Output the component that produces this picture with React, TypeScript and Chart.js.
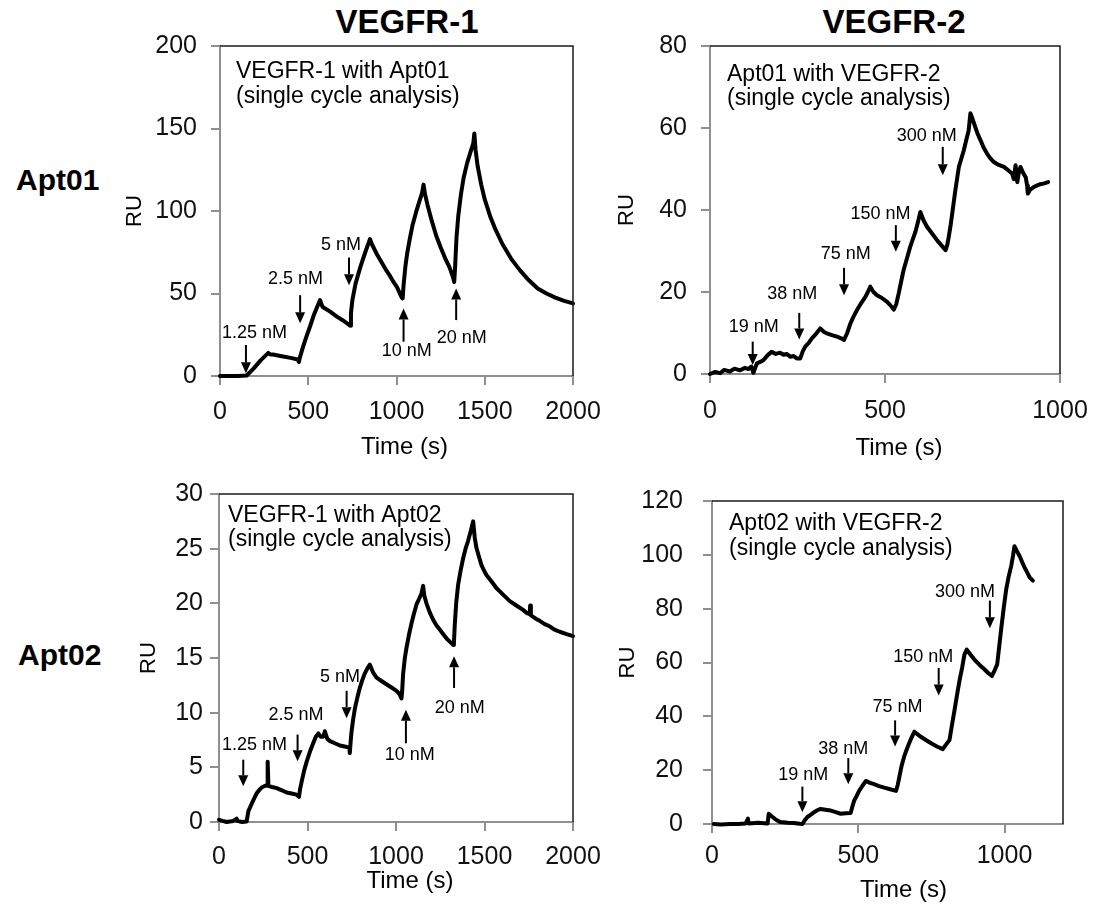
import React, { useEffect, useRef } from "react";
import { Chart, registerables } from "chart.js";

Chart.register(...registerables);

const FONT = "'Liberation Sans', Arial, Helvetica, sans-serif";

// ---------- Panel 1: VEGFR-1 with Apt01 ----------
const p1Time = [0, 100, 151, 190, 230, 274, 285, 300, 350, 400, 440, 447, 452, 470, 490, 510, 530, 555, 567, 580, 624, 662, 700, 737, 742, 750, 768, 795, 823, 850, 860, 888, 926, 945, 964, 983, 1002, 1030, 1035, 1040, 1050, 1060, 1075, 1090, 1110, 1130, 1145, 1153, 1162, 1175, 1200, 1225, 1250, 1275, 1300, 1320, 1327, 1332, 1340, 1350, 1365, 1380, 1400, 1420, 1435, 1441, 1448, 1460, 1480, 1500, 1530, 1560, 1600, 1650, 1700, 1750, 1800, 1850, 1900, 1950, 2000];
const p1RU = [0, 0, 0.3, 4.5, 9.5, 14, 13, 13, 12, 11, 10, 8.5, 11, 17.5, 24, 30, 36.5, 43, 46, 42, 39, 36, 33.5, 30.5, 38, 46, 56, 66, 75, 83, 80, 74, 67, 63.5, 60.5, 57, 54, 47.5, 47, 55, 66, 74, 83, 91, 99, 106, 111, 116, 110, 104, 94, 85, 78, 71.5, 66, 60, 57, 66, 84, 97, 110, 120, 129, 136, 141, 147, 137, 127, 116, 107, 97, 89, 80, 71, 64, 58, 53, 50, 47.5, 45.5, 44];
const p1XMax = 2000;
const p1XTicks = [0, 500, 1000, 1500, 2000];
const p1YTicks = [0, 50, 100, 150, 200];
const p1Arrows = [
  { label: "1.25 nM", x: 147, from: 18.8, to: 1.6, lx: 195, ly: 26 },
  { label: "2.5 nM", x: 454, from: 49, to: 31.9, lx: 428, ly: 59 },
  { label: "5 nM", x: 731, from: 71.8, to: 55, lx: 686, ly: 79.6 },
  { label: "10 nM", x: 1040, from: 20.8, to: 40.9, lx: 1058, ly: 15.3 },
  { label: "20 nM", x: 1338, from: 33.9, to: 53, lx: 1370, ly: 22.8 },
];
const p1Caption = ["VEGFR-1 with Apt01", "(single cycle analysis)"];

// ---------- Panel 2: Apt01 with VEGFR-2 ----------
const p2Time = [0, 15, 29, 40, 57, 70, 86, 100, 110, 118, 124, 134, 145, 153, 165, 176, 188, 200, 210, 219, 230, 239, 248, 258, 265, 272, 282, 291, 303, 315, 325, 334, 348, 363, 375, 383, 392, 401, 410, 420, 432, 444, 451, 458, 467, 477, 490, 506, 515, 525, 532, 539, 546, 553, 562, 572, 580, 587, 594, 601, 610, 620, 635, 649, 662, 673, 678, 682, 687, 692, 701, 711, 718, 725, 732, 739, 744, 751, 758, 765, 773, 782, 792, 801, 811, 825, 840, 852, 863, 868, 873, 878, 883, 887, 895, 902, 906, 908, 915, 925, 935, 944, 955, 966];
const p2RU = [0, 0.5, 0.2, 1, 0.6, 1.3, 0.9, 1.5, 1.2, 1.8, 0.3, 2.6, 3, 3.4, 4.6, 5.4, 4.9, 5.2, 4.7, 4.9, 4.2, 4.4, 3.8, 3.8, 5.5, 6.7, 7.6, 8.7, 9.8, 11.1, 10.3, 9.9, 9.5, 9.1, 8.7, 8.3, 10, 12.3, 14, 15.6, 17.3, 18.8, 20, 21.3, 20, 19.2, 18.6, 17.6, 16.8, 15.7, 17, 19.6, 22.5, 25.3, 28, 31, 33, 34.7, 37, 39.5, 37.5, 35.9, 34.2, 32.6, 31.3, 30.2, 31.5, 33.4, 36, 39.1, 44.8, 50.5, 52.5, 54.5, 57, 59.4, 63.6, 62, 60.2, 58.5, 57, 55.2, 53.7, 52.6, 51.7, 51, 50.5, 49.7, 48.9, 47.5, 50.9, 46.8, 49.5, 50.5, 49, 48, 46, 44, 45, 45.6, 46, 46.3, 46.5, 46.8];
const p2XMax = 1000;
const p2XTicks = [0, 500, 1000];
const p2YTicks = [0, 20, 40, 60, 80];
const p2Arrows = [
  { label: "19 nM", x: 122, from: 7.9, to: 2.2, lx: 125, ly: 11.4 },
  { label: "38 nM", x: 255, from: 14.9, to: 8.4, lx: 235, ly: 19.5 },
  { label: "75 nM", x: 383, from: 25.9, to: 19.2, lx: 388, ly: 29.3 },
  { label: "150 nM", x: 531, from: 36.3, to: 29.8, lx: 487, ly: 39 },
  { label: "300 nM", x: 665, from: 55.4, to: 48.5, lx: 619, ly: 58 },
];
const p2Caption = ["Apt01 with VEGFR-2", "(single cycle analysis)"];

// ---------- Panel 3: VEGFR-1 with Apt02 ----------
const p3Time = [0, 20, 43, 80, 100, 103, 130, 156, 162, 166, 180, 194, 212, 231, 245, 260, 272, 275, 279, 300, 326, 355, 382, 410, 438, 452, 458, 467, 481, 495, 513, 532, 547, 561, 575, 589, 598, 612, 627, 655, 683, 710, 736, 739, 744, 749, 758, 768, 782, 796, 810, 824, 840, 852, 870, 890, 918, 946, 975, 1003, 1020, 1031, 1035, 1040, 1050, 1059, 1073, 1088, 1102, 1116, 1130, 1144, 1153, 1160, 1172, 1190, 1210, 1228, 1247, 1266, 1285, 1304, 1323, 1327, 1332, 1340, 1351, 1365, 1379, 1393, 1407, 1422, 1436, 1445, 1454, 1468, 1483, 1497, 1511, 1540, 1567, 1605, 1643, 1680, 1718, 1740, 1755, 1758, 1762, 1790, 1812, 1840, 1868, 1895, 1925, 1960, 2000];
const p3RU = [0.2, 0.1, 0, 0.1, 0.3, 0.1, 0, 0.05, 0.6, 1.0, 1.5, 2.0, 2.6, 3.0, 3.2, 3.3, 3.4, 5.5, 3.3, 3.2, 3.1, 2.9, 2.7, 2.6, 2.5, 2.3, 3.0, 3.7, 4.7, 5.5, 6.4, 7.2, 7.8, 8.1, 7.8, 7.8, 8.3, 7.6, 7.4, 7.2, 7.0, 6.9, 6.8, 6.3, 7.4, 8.3, 9.4, 10.4, 11.4, 12.3, 13.0, 13.6, 14.1, 14.4, 13.7, 13.2, 12.9, 12.6, 12.3, 12.0, 11.7, 11.3, 12.0, 13.5, 15.0, 15.9, 17.1, 18.2, 19.1, 19.9, 20.4, 20.9, 21.6, 20.7, 20.0, 19.2, 18.5, 18.0, 17.6, 17.2, 16.8, 16.5, 16.2, 16.3, 18.0, 20.0, 21.7, 23.0, 24.1, 25.0, 25.7, 26.6, 27.5, 26.0, 25.1, 24.3, 23.5, 23.0, 22.6, 22.0, 21.4, 20.8, 20.2, 19.8, 19.4, 19.1, 19.0, 19.8, 18.9, 18.6, 18.4, 18.1, 17.9, 17.6, 17.4, 17.2, 17.0];
const p3XMax = 2000;
const p3XTicks = [0, 500, 1000, 1500, 2000];
const p3YTicks = [0, 5, 10, 15, 20, 25, 30];
const p3Arrows = [
  { label: "1.25 nM", x: 137, from: 5.7, to: 3.26, lx: 200, ly: 7.07 },
  { label: "2.5 nM", x: 444, from: 8.0, to: 5.55, lx: 435, ly: 9.76 },
  { label: "5 nM", x: 721, from: 12.0, to: 9.5, lx: 683, ly: 13.3 },
  { label: "10 nM", x: 1056, from: 7.2, to: 10.27, lx: 1078, ly: 6.1 },
  { label: "20 nM", x: 1328, from: 12.26, to: 15.15, lx: 1360, ly: 10.4 },
];
const p3Caption = ["VEGFR-1 with Apt02", "(single cycle analysis)"];

// ---------- Panel 4: Apt02 with VEGFR-2 ----------
const p4Time = [6, 30, 63, 90, 115, 123, 125, 158, 190, 194, 205, 220, 234, 260, 280, 300, 309, 318, 326, 338, 349, 360, 371, 388, 406, 423, 440, 457, 474, 480, 486, 495, 503, 515, 526, 540, 554, 571, 589, 609, 629, 635, 640, 648, 657, 665, 674, 683, 692, 703, 714, 731, 749, 769, 789, 800, 812, 820, 829, 837, 846, 855, 863, 871, 884, 897, 914, 932, 945, 957, 966, 975, 982, 989, 997, 1006, 1014, 1023, 1029, 1034, 1043, 1052, 1060, 1069, 1078, 1086, 1097];
const p4RU = [0, -0.2, 0, 0, 0.2, 2, 0.2, 0.5, 0.2, 3.8, 2.8, 1.5, 0.7, 0.5, 0.4, 0.1, 0, 1.5, 2.6, 3.5, 4.4, 5.1, 5.6, 5.3, 5, 4.4, 3.8, 4.0, 4.1, 6.5, 8.7, 10.5, 12.3, 14.3, 16, 15.3, 14.8, 14.1, 13.5, 12.9, 12.3, 14.5, 17.2, 21.5, 25.1, 27.5, 30, 32.3, 34.3, 33.3, 32.4, 31.2, 30, 28.8, 27.8, 29.5, 31.2, 36.5, 42.2, 47.5, 53.2, 58, 62.9, 64.8, 62.9, 61.1, 59.2, 57.4, 56, 55, 57, 59.3, 66, 72.7, 80, 87.3, 91.8, 95.9, 99.6, 103.2, 101.3, 99.5, 97.4, 95.2, 93.4, 91.6, 90.4];
const p4XMax = 1200;
const p4XTicks = [0, 500, 1000];
const p4YTicks = [0, 20, 40, 60, 80, 100, 120];
const p4Arrows = [
  { label: "19 nM", x: 309, from: 13.9, to: 4.4, lx: 312, ly: 18.2 },
  { label: "38 nM", x: 466, from: 24.5, to: 14.8, lx: 449, ly: 28 },
  { label: "75 nM", x: 626, from: 38.5, to: 28.8, lx: 634, ly: 43.5 },
  { label: "150 nM", x: 775, from: 58, to: 47.7, lx: 722, ly: 62 },
  { label: "300 nM", x: 950, from: 83, to: 72.7, lx: 865, ly: 86 },
];
const p4Caption = ["Apt02 with VEGFR-2", "(single cycle analysis)"];

const columnTitles = ["VEGFR-1", "VEGFR-2"];
const rowTitles = ["Apt01", "Apt02"];
const yTitle = "RU";
const xTitle = "Time (s)";

type Arrow = { label: string; x: number; from: number; to: number; lx: number; ly: number };

interface Panel {
  time: number[];
  ru: number[];
  xMax: number;
  xTicks: number[];
  yTicks: number[];
  arrows: Arrow[];
  caption: string[];
  plotLeft: number;
  plotTop: number;
  plotW: number;
  plotH: number;
  yTickPad: number;
  xTickPad: number;
  ruOff: number;
  capDx: number;
  capDy1: number;
  capDy2: number;
  tDx: number;
  tDy: number;
}

const panels: Panel[] = [
  { time: p1Time, ru: p1RU, xMax: p1XMax, xTicks: p1XTicks, yTicks: p1YTicks, arrows: p1Arrows, caption: p1Caption,
    plotLeft: 220, plotTop: 46, plotW: 353, plotH: 330, yTickPad: 14, xTickPad: 12.5, ruOff: 85.3,
    capDx: 16, capDy1: 32.3, capDy2: 56.7, tDx: 8, tDy: 71 },
  { time: p2Time, ru: p2RU, xMax: p2XMax, xTicks: p2XTicks, yTicks: p2YTicks, arrows: p2Arrows, caption: p2Caption,
    plotLeft: 710, plotTop: 46, plotW: 350, plotH: 328, yTickPad: 14, xTickPad: 13.2, ruOff: 83,
    capDx: 17, capDy1: 34.7, capDy2: 59.4, tDx: 14, tDy: 74.7 },
  { time: p3Time, ru: p3RU, xMax: p3XMax, xTicks: p3XTicks, yTicks: p3YTicks, arrows: p3Arrows, caption: p3Caption,
    plotLeft: 219, plotTop: 494, plotW: 354, plotH: 328, yTickPad: 7, xTickPad: 11.5, ruOff: 70,
    capDx: 9, capDy1: 27.7, capDy2: 52.4, tDx: 14, tDy: 59.2 },
  { time: p4Time, ru: p4RU, xMax: p4XMax, xTicks: p4XTicks, yTicks: p4YTicks, arrows: p4Arrows, caption: p4Caption,
    plotLeft: 712, plotTop: 496, plotW: 351, plotH: 328, yTickPad: 20, xTickPad: 8, ruOff: 84.5,
    capDx: 17, capDy1: 29, capDy2: 54.4, tDx: 16, tDy: 66.2 },
];

const YW = 110;
const PT = 30;
const PR = 45;
const XH = 95;
const AXIS_GRAY = "#8f8f8f";

function PanelChart({ p }: { p: Panel }) {
  const ref = useRef<HTMLCanvasElement>(null);
  const w = YW + p.plotW + PR;
  const h = PT + p.plotH + XH;

  useEffect(() => {
    const canvas = ref.current;
    if (!canvas) return;

    const overlay = {
      id: "overlay",
      afterDatasetsDraw(chart: any) {
        const { ctx, chartArea } = chart;
        const xs = chart.scales.x;
        const ys = chart.scales.y;
        ctx.save();
        // top & right frame
        ctx.strokeStyle = "#1a1a1a";
        ctx.lineWidth = 1.5;
        ctx.beginPath();
        ctx.moveTo(chartArea.left, chartArea.top);
        ctx.lineTo(chartArea.right, chartArea.top);
        ctx.lineTo(chartArea.right, chartArea.bottom);
        ctx.stroke();

        // arrows and concentration labels
        ctx.fillStyle = "#000";
        ctx.strokeStyle = "#000";
        for (const a of p.arrows) {
          const px = xs.getPixelForValue(a.x);
          const y0 = ys.getPixelForValue(a.from);
          const y1 = ys.getPixelForValue(a.to);
          const dir = y1 > y0 ? 1 : -1;
          const head = 11;
          ctx.lineWidth = 2;
          ctx.beginPath();
          ctx.moveTo(px, y0);
          ctx.lineTo(px, y1 - dir * head);
          ctx.stroke();
          ctx.beginPath();
          ctx.moveTo(px, y1);
          ctx.lineTo(px - 5, y1 - dir * head);
          ctx.lineTo(px + 5, y1 - dir * head);
          ctx.closePath();
          ctx.fill();
          ctx.font = `18px ${FONT}`;
          ctx.textAlign = "center";
          ctx.textBaseline = "middle";
          ctx.fillText(a.label, xs.getPixelForValue(a.lx), ys.getPixelForValue(a.ly));
        }

        // caption
        ctx.font = `23px ${FONT}`;
        ctx.textAlign = "left";
        ctx.textBaseline = "alphabetic";
        ctx.fillText(p.caption[0], chartArea.left + p.capDx, chartArea.top + p.capDy1);
        ctx.fillText(p.caption[1], chartArea.left + p.capDx, chartArea.top + p.capDy2);

        // axis titles
        ctx.font = `24px ${FONT}`;
        ctx.textAlign = "center";
        ctx.textBaseline = "middle";
        ctx.fillText(xTitle, (chartArea.left + chartArea.right) / 2 + p.tDx, chartArea.bottom + p.tDy);
        ctx.font = `22px ${FONT}`;
        ctx.translate(chartArea.left - p.ruOff, (chartArea.top + chartArea.bottom) / 2);
        ctx.rotate(-Math.PI / 2);
        ctx.fillText(yTitle, 0, 0);
        ctx.restore();
      },
    };

    const tickFont = { family: FONT, size: 25 };
    const chart = new Chart(canvas, {
      type: "line",
      data: {
        datasets: [
          {
            data: p.time.map((t, i) => ({ x: t, y: p.ru[i] })),
            borderColor: "#000",
            borderWidth: 4,
            pointRadius: 0,
            tension: 0,
            borderJoinStyle: "round",
            borderCapStyle: "round",
            fill: false,
            clip: false,
          } as any,
        ],
      },
      options: {
        responsive: false,
        animation: false,
        devicePixelRatio: 1,
        layout: { padding: { top: PT, right: PR, left: 0, bottom: 0 } },
        plugins: { legend: { display: false }, tooltip: { enabled: false } },
        scales: {
          x: {
            type: "linear",
            min: 0,
            max: p.xMax,
            afterBuildTicks: (s: any) => {
              s.ticks = p.xTicks.map((v) => ({ value: v }));
            },
            afterFit: (s: any) => {
              s.height = XH;
            },
            ticks: {
              autoSkip: false,
              maxRotation: 0,
              padding: p.xTickPad,
              color: "#111",
              font: tickFont,
              callback: (v: any) => String(v),
            },
            grid: { display: true, drawOnChartArea: false, drawTicks: true, tickLength: 9, color: AXIS_GRAY, lineWidth: 2 },
            border: { display: true, color: AXIS_GRAY, width: 2 },
          },
          y: {
            type: "linear",
            min: p.yTicks[0],
            max: p.yTicks[p.yTicks.length - 1],
            afterBuildTicks: (s: any) => {
              s.ticks = p.yTicks.map((v) => ({ value: v }));
            },
            afterFit: (s: any) => {
              s.width = YW;
            },
            ticks: {
              autoSkip: false,
              padding: p.yTickPad,
              color: "#111",
              font: tickFont,
              callback: (v: any) => String(v),
            },
            grid: { display: true, drawOnChartArea: false, drawTicks: true, tickLength: 9, color: AXIS_GRAY, lineWidth: 2 },
            border: { display: true, color: AXIS_GRAY, width: 2 },
          },
        },
      },
      plugins: [overlay],
    });
    return () => chart.destroy();
  }, []);

  return (
    <canvas
      ref={ref}
      width={w}
      height={h}
      style={{ position: "absolute", left: p.plotLeft - YW, top: p.plotTop - PT, width: w, height: h, display: "block" }}
    />
  );
}

function Label({ text, cx, left, baseline, size }: { text: string; cx?: number; left?: number; baseline: number; size: number }) {
  const top = baseline - 0.8465 * size;
  const style: React.CSSProperties = {
    position: "absolute",
    top,
    fontFamily: FONT,
    fontWeight: "bold",
    fontSize: size,
    lineHeight: `${size}px`,
    color: "#000",
    whiteSpace: "nowrap",
  };
  if (cx !== undefined) {
    style.left = cx - 200;
    style.width = 400;
    style.textAlign = "center";
  } else {
    style.left = left;
  }
  return <div style={style}>{text}</div>;
}

export default function App() {
  return (
    <div style={{ position: "absolute", left: 0, top: 0, width: 1097, height: 908, background: "#fff", overflow: "hidden" }}>
      <Label text={columnTitles[0]} cx={407} baseline={33} size={33} />
      <Label text={columnTitles[1]} cx={894} baseline={33} size={33} />
      <Label text={rowTitles[0]} left={16} baseline={190} size={30} />
      <Label text={rowTitles[1]} left={18} baseline={665} size={30} />
      {panels.map((p, i) => (
        <PanelChart key={i} p={p} />
      ))}
    </div>
  );
}
